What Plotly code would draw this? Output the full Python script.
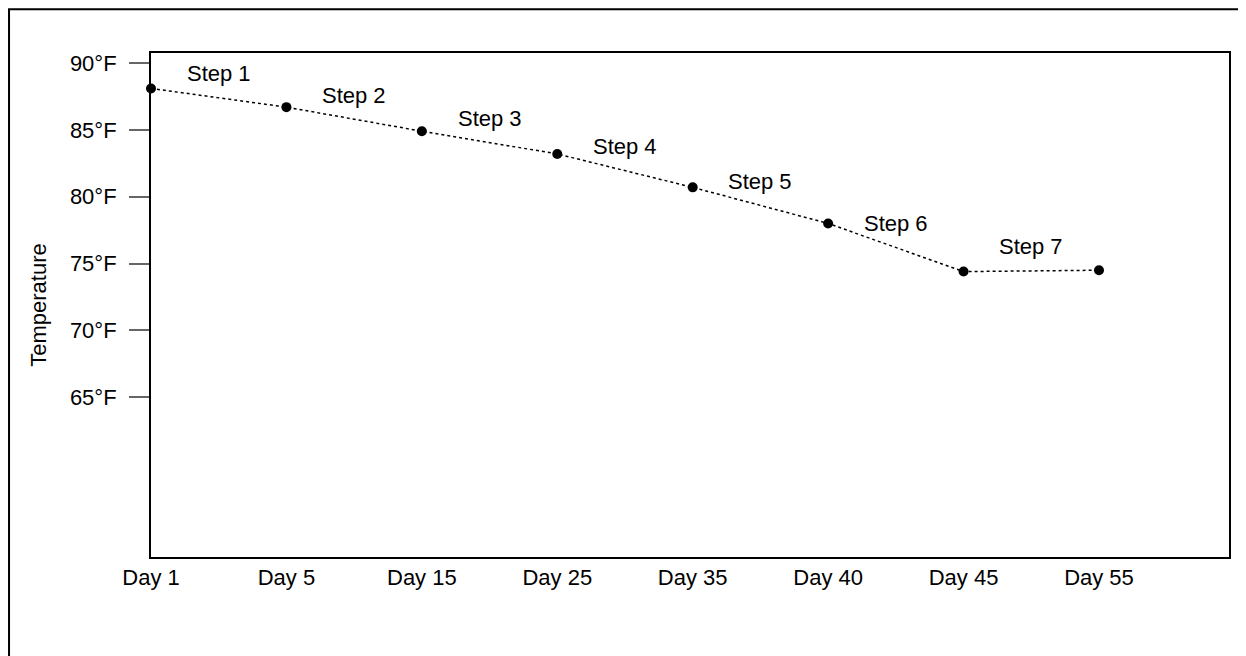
import plotly.graph_objs as go

days = ['Day 1', 'Day 5', 'Day 15', 'Day 25', 'Day 35', 'Day 40', 'Day 45', 'Day 55']
temps = [88.1, 86.7, 84.9, 83.2, 80.7, 78.0, 74.4, 74.5]
steps = ['Step 1', 'Step 2', 'Step 3', 'Step 4', 'Step 5', 'Step 6', 'Step 7']
tick_vals = [65, 70, 75, 80, 85, 90]
tick_text = [f'{v}°F' for v in tick_vals]

font_family = 'Liberation Sans, Arial, sans-serif'

traces = [
    go.Scatter(
        x=list(range(len(days))),
        y=temps,
        mode='lines+markers',
        line=dict(color='black', width=1.5, dash='dot'),
        marker=dict(color='black', size=10),
        cliponaxis=False,
        showlegend=False,
    )
]

# step labels sit above the middle of each segment
annotations = []
for i, step in enumerate(steps):
    annotations.append(dict(
        x=i + 0.5,
        y=(temps[i] + temps[i + 1]) / 2,
        text=step,
        showarrow=False,
        yshift=24,
        font=dict(size=22, color='black'),
    ))

fig = go.Figure(
    data=traces,
    layout=go.Layout(
        width=1238,
        height=648,
        margin=dict(l=143, r=17, t=45, b=99),
        paper_bgcolor='white',
        plot_bgcolor='white',
        font=dict(family=font_family, size=22, color='black'),
        xaxis=dict(
            tickmode='array',
            tickvals=list(range(len(days))),
            ticktext=days,
            range=[0, 7.96],
            showgrid=False,
            zeroline=False,
            showline=True,
            linecolor='black',
            linewidth=2,
            mirror=True,
            ticks='',
            ticklabelstandoff=0,
        ),
        yaxis=dict(
            title=dict(text='Temperature', standoff=17, font=dict(size=22)),
            tickvals=tick_vals,
            ticktext=tick_text,
            range=[53.05, 90.75],
            showgrid=False,
            zeroline=False,
            showline=True,
            linecolor='black',
            linewidth=2,
            mirror=True,
            ticks='outside',
            ticklen=20,
            tickcolor='#666666',
            tickwidth=1.5,
            ticklabelstandoff=8,
        ),
        annotations=annotations,
        shapes=[
            dict(
                type='rect',
                xref='paper',
                yref='paper',
                x0=-0.1317,
                x1=1.5,
                y0=-1.0,
                y1=1.087,
                line=dict(color='black', width=2),
                layer='below',
            )
        ],
    ),
)

fig.write_html('out.html')
